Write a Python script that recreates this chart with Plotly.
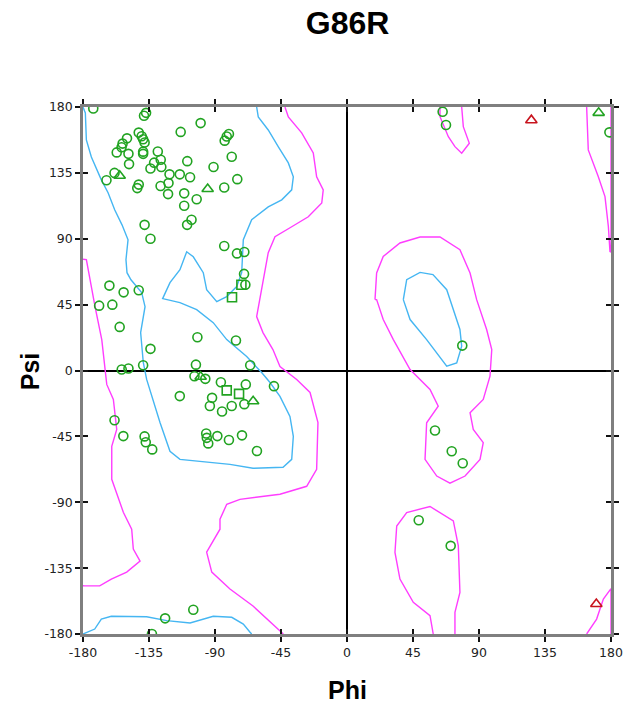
import plotly.graph_objects as go

# ---------------- data (phi, psi in degrees) ----------------
circle_phi = [-173, -138.4, -137, -99.8, -113.4, -80.5, -82, -83.4, -142, -140, -139, -138,
              -150, -153, -153.7, -157, -149, -139, -139, -129, -127, -131.5, -134, -126.6,
              -148.6, -108.9, -78.6, -91, -158.5, -164, -121, -114, -107, -121.7, -127.1,
              -142, -143, -83.7, -74.8, -111, -102.5, -122, -111, -106, -109, -138, -134,
              -83.7, -75, -70, -70.2, -69.3, -162, -152.3, -142, -169, -160, -155, -102,
              -75.7, -134, -153.6, -149, -139, -103, -66, -104, -96.6, -86, -69, -49.8,
              -114, -92, -93.5, -85.2, -78.6, -70, -158.5, -152.5, -138, -137.2, -132.8,
              -96, -95.6, -94.6, -88.4, -80.5, -71.6, -61.4, -104.8, -124, -133,
              65.2, 67.5, 178.9, 78.6, 60, 71.4, 78.9, 48.9, 70.7]
circle_psi = [179, 174, 176, 169, 163, 161.6, 159.8, 157, 162.5, 160, 158, 155.7,
              158.6, 155, 152.5, 149, 148, 148, 149.5, 149.6, 144, 142, 138, 139,
              141, 143, 146, 139, 135, 130, 134, 134, 132, 128, 126,
              127, 124.6, 125, 130.7, 121, 117, 120.5, 112.5, 103, 99.5, 99.5, 90,
              85, 80, 81, 66, 58.6, 58, 53.4, 54.8, 44.3, 45, 29.8, 22.7,
              20.5, 14.8, 0.7, 1.4, 3.6, 4, 3.6, -3.9, -5.7, -8, -9.5, -10.7,
              -17.5, -18.7, -24.3, -28, -24.3, -23, -34, -44.8, -45, -49, -53.9,
              -43, -46, -49.8, -44.8, -47.5, -44.3, -55, -163.4, -169.3, -180,
              176.8, 167.7, 162.7, 17, -41, -55.2, -63.4, -102.3, -119.8]

tri_phi = [-155, -95, -99.8, -64, 171.6]
tri_psi = [133, 124, -4.3, -21, 176]

square_phi = [-72, -78.4, -82, -73.6]
square_psi = [58.6, 50, -13.6, -16]

red_tri_phi = [125.7, 170]
red_tri_psi = [171, -159.5]

# favoured-region (blue) contours
blue_a_phi = [-180, -178.4, -177.7, -174.3, -167.5, -162.9, -158.4, -153.4, -149.3, -150.7, -150, -147.3,
              -140, -137.7, -140.7, -138.9, -136.6, -133.2, -127.5, -120.7, -113.9, -79.8, -64.1, -43.6,
              -37.7, -36.6, -38.9, -45.7, -52.5, -58.2, -68.4, -82, -91.2, -102.5, -113.9, -125.7,
              -120.7, -113.9, -109.3, -104.8, -98, -95.7, -88.8, -82, -75.2, -71.8, -70.7, -65,
              -53.7, -44.5, -37.7, -36.6, -40, -46.8, -53.7, -60.5, -61.6]
blue_a_psi = [180, 175.9, 157.5, 145.9, 130.2, 121.4, 109.8, 99.5, 89.3, 75.7, 66.8, 62,
              53.2, 43.6, 25.9, 5.5, -6.1, -17.7, -35.5, -55.2, -60.7, -64.1, -66.8, -66.1,
              -60.7, -45, -31.4, -17.7, -8.2, -1.4, 9.5, 21.1, 32.7, 41.6, 46.4, 49.1,
              60, 68.9, 81.1, 77.7, 66.8, 55.2, 47, 50.5, 57.3, 66.8, 89.3, 103,
              111.8, 116.6, 123.4, 132.3, 141.8, 152.7, 164.3, 173.2, 180]

blue_b_phi = [-180, -172, -167.5, -160.7, -136.6, -122.9, -107, -91.2, -78.6, -70.7, -66.1, -65]
blue_b_psi = [-180, -176.6, -169.8, -167.9, -168.2, -170.9, -172.5, -167.9, -168.6, -173.2, -178.8, -180]

blue_c_phi = [38.4, 40.7, 49.8, 58.6, 68, 72.5, 77, 78.2, 74.8, 68, 54.3, 43, 38.4]
blue_c_psi = [48.4, 62, 67, 65.5, 55.2, 41.6, 28, 16.6, 5.2, 2.9, 21.1, 34.8, 48.4]

# allowed-region (magenta) contours
mag_a_phi = [-42.3, -40, -30.9, -23, -20.7, -16.2, -17.2, -26.4, -37.7, -49.1, -53.7, -55.9,
             -57.3, -61.6, -57.3, -50.5, -45.7, -34.3, -25.2, -19.8, -20.7, -27.5, -45.7, -73,
             -82, -86.6, -86.6, -95.7, -92.2, -79.8, -64.1, -54.7, -43.4]
mag_a_psi = [180, 173.2, 162.3, 148.6, 132.3, 123.4, 114.5, 105, 98.2, 91.4, 80.5, 68.9,
             60, 36.8, 25.9, 14.3, 2.7, -6.1, -15, -35.5, -67.5, -79.1, -84.5, -88,
             -91.4, -101.6, -108.4, -124.1, -137.7, -149.3, -160.9, -169.8, -180]

mag_b_phi = [-180, -177.7, -171.8, -167.2, -163.8, -159.3, -157, -160.4, -160.4, -152.5, -146.8,
             -145.7, -141.1, -150.2, -160.7, -168.6, -178.8, -180]
mag_b_psi = [76, 75.7, 43.6, 21.1, -9.5, -19.8, -40.2, -51.8, -74.3, -96.8, -108.4,
             -122, -130.2, -137.7, -142.5, -147.1, -147.1, -147]

mag_c_phi = [63.4, 63.4, 69.1, 73.6, 78.2, 83.4, 79.3, 78.2]
mag_c_psi = [180, 173.4, 159.7, 152.9, 148.4, 155.2, 166.6, 180]

mag_d_phi = [163.4, 164.5, 171.3, 175.9, 178.2, 179.3, 180, 180]
mag_d_psi = [180, 150.7, 132.5, 118.8, 98.4, 81.3, 81, 180]

mag_e_phi = [163.4, 170.2, 174.8, 179.3, 180, 180]
mag_e_psi = [-180, -169.8, -156.1, -149.3, -149, -180]

mag_f_phi = [19.1, 20.2, 24.7, 36.1, 49.8, 63.4, 77, 83.9, 88.4, 90.7, 95.2, 98.7, 97.5, 92.9,
             83.9, 86.1, 92.9, 90.7, 80.5, 70.2, 61.2, 53.2, 54.3, 62.2, 56.6, 43, 31.6, 24.7,
             20.2, 19.1]
mag_f_psi = [48.4, 66.6, 77.9, 87.1, 91.2, 91.2, 82.5, 66.6, 48.4, 41.6, 28, 14.3, -3.9, -19.8,
             -28.8, -40.2, -49.3, -60.7, -72.1, -77, -72.1, -60.7, -35.7, -24.3, -13, 0.7, 21.1, 34.8,
             48.4, 48.4]

mag_g_phi = [58.8, 56.6, 45.2, 36.1, 32.7, 33.9, 40.7, 56.6, 72.5, 75.9, 77, 73.6, 73.6]
mag_g_psi = [-180, -167.5, -158.4, -142.5, -124.3, -106.2, -97, -92.9, -102.7, -119.8, -151.6, -165.2, -180]

tick_vals = [-180, -135, -90, -45, 0, 45, 90, 135, 180]
tick_text = ["-180", "-135", "-90", "-45", "0", "45", "90", "135", "180"]

BLUE = "#45b6f2"
MAGENTA = "#ff3dff"
GREEN = "#21a321"
RED = "#c8141e"

fig = go.Figure()

for px_, py_ in [(blue_a_phi, blue_a_psi), (blue_b_phi, blue_b_psi), (blue_c_phi, blue_c_psi)]:
    fig.add_trace(go.Scatter(x=px_, y=py_, mode="lines", line=dict(color=BLUE, width=1.4),
                             hoverinfo="skip", showlegend=False, cliponaxis=True))
for px_, py_ in [(mag_a_phi, mag_a_psi), (mag_b_phi, mag_b_psi), (mag_c_phi, mag_c_psi),
                 (mag_d_phi, mag_d_psi), (mag_e_phi, mag_e_psi), (mag_f_phi, mag_f_psi),
                 (mag_g_phi, mag_g_psi)]:
    fig.add_trace(go.Scatter(x=px_, y=py_, mode="lines", line=dict(color=MAGENTA, width=1.4),
                             hoverinfo="skip", showlegend=False, cliponaxis=True))

fig.add_trace(go.Scatter(x=circle_phi, y=circle_psi, mode="markers", showlegend=False,
                         marker=dict(symbol="circle-open", size=9, color=GREEN, line=dict(width=1.6, color=GREEN))))
fig.add_trace(go.Scatter(x=tri_phi, y=tri_psi, mode="markers", showlegend=False,
                         marker=dict(symbol="triangle-up-open", size=10, color=GREEN, line=dict(width=1.6, color=GREEN))))
fig.add_trace(go.Scatter(x=square_phi, y=square_psi, mode="markers", showlegend=False,
                         marker=dict(symbol="square-open", size=9, color=GREEN, line=dict(width=1.6, color=GREEN))))
fig.add_trace(go.Scatter(x=red_tri_phi, y=red_tri_psi, mode="markers", showlegend=False,
                         marker=dict(symbol="triangle-up-open", size=10, color=RED, line=dict(width=1.6, color=RED))))

# dummy trace for the overlay axes (inside ticks)
fig.add_trace(go.Scatter(x=[None], y=[None], xaxis="x2", yaxis="y2", showlegend=False, hoverinfo="skip"))

tickfont = dict(family="DejaVu Sans", size=12.5, color="#222222")
common = dict(range=[-180, 180], tickmode="array", tickvals=tick_vals, ticktext=tick_text,
              showgrid=False, zeroline=True, zerolinecolor="black", zerolinewidth=1.5,
              showline=True, linecolor="#7f7f7f", linewidth=2.5, mirror="ticks", automargin=False,
              ticks="outside", ticklen=5, tickwidth=2, tickcolor="#111111", tickfont=tickfont)

fig.update_layout(
    width=624, height=704,
    margin=dict(l=83, r=13, t=107, b=70, autoexpand=False),
    paper_bgcolor="white", plot_bgcolor="white",
    title=dict(text="<b>G86R</b>", x=0.557, xanchor="center", y=0.968, yanchor="middle",
               font=dict(family="Liberation Sans", size=32, color="black")),
    xaxis=dict(**common),
    yaxis=dict(**common),
    xaxis2=dict(range=[-180, 180], overlaying="x", side="top", tickvals=tick_vals,
                showticklabels=False, showgrid=False, zeroline=False, ticks="inside",
                ticklen=5, tickwidth=2, tickcolor="#111111", mirror="ticks", showline=False),
    yaxis2=dict(range=[-180, 180], overlaying="y", side="right", tickvals=tick_vals,
                showticklabels=False, showgrid=False, zeroline=False, ticks="inside",
                ticklen=5, tickwidth=2, tickcolor="#111111", mirror="ticks", showline=False),
    annotations=[
        dict(text="<b>Phi</b>", xref="paper", yref="paper", x=0.5, y=-0.106,
             xanchor="center", yanchor="middle", showarrow=False,
             font=dict(family="Liberation Sans", size=25, color="black")),
        dict(text="<b>Psi</b>", xref="paper", yref="paper", x=-0.100, y=0.499,
             xanchor="center", yanchor="middle", showarrow=False, textangle=-90,
             font=dict(family="Liberation Sans", size=25, color="black")),
    ],
)

fig.write_html("out.html")
